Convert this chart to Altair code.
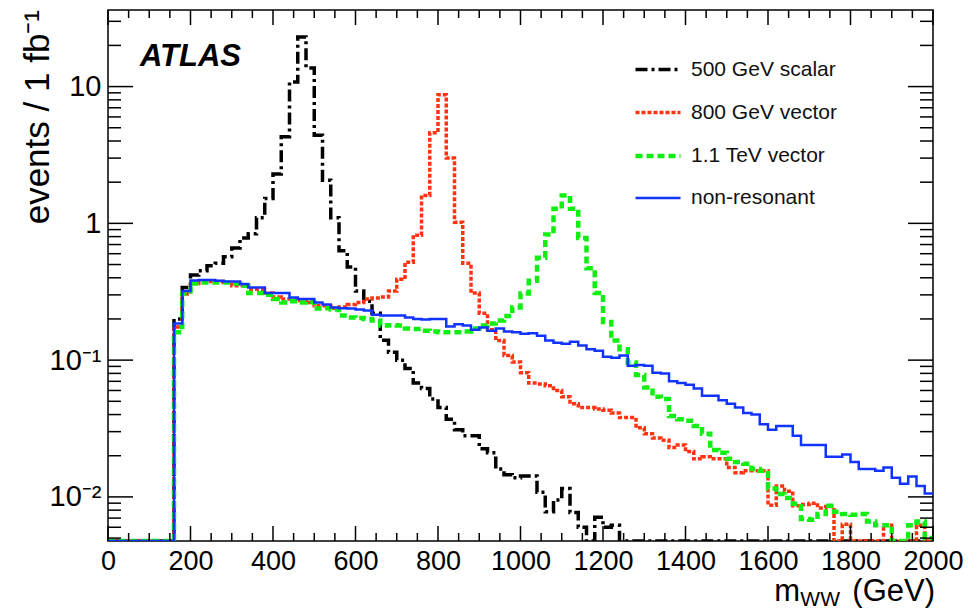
import altair as alt
import pandas as pd

# m_WW bins: 20 GeV wide, 0 - 2000 GeV
BIN_WIDTH = 20
M_MAX = 2000
M_LOW = list(range(0, M_MAX, BIN_WIDTH))

SERIES = ["500 GeV scalar", "800 GeV vector", "1.1 TeV vector", "non-resonant"]
COLORS = ["#000000", "#ff3311", "#11ee11", "#1133ff"]
DASHES = [[12, 4, 3, 4], [4, 2], [7, 4], [1, 0]]
WIDTHS = [3.5, 3.5, 4.5, 2.5]

# events / 1 fb^-1 per bin (0 = empty bin)
scalar_500 = [
    0, 0, 0, 0, 0, 0, 0, 0, 0.20, 0.34,
    0.42, 0.45, 0.49, 0.51, 0.57, 0.66, 0.78, 0.84, 1.10, 1.52,
    2.3, 4.3, 10.8, 23.0, 13.7, 4.4, 2.07, 1.10, 0.63, 0.48,
    0.32, 0.27, 0.22, 0.14, 0.114, 0.10, 0.087, 0.068, 0.062, 0.052,
    0.045, 0.037, 0.031, 0.028, 0.028, 0.0225, 0.021, 0.016, 0.0145, 0.0138,
    0.0142, 0.0142, 0.0108, 0.0078, 0.0095, 0.0115, 0.0077, 0.0060, 0, 0.0071,
    0.0060, 0.0062, 0, 0, 0, 0, 0, 0, 0, 0,
    0, 0, 0, 0, 0, 0, 0, 0, 0, 0,
    0, 0, 0, 0, 0, 0, 0, 0, 0, 0,
    0, 0, 0, 0, 0, 0, 0, 0, 0, 0,
]
vector_800 = [
    0, 0, 0, 0, 0, 0, 0, 0, 0.175, 0.305,
    0.364, 0.375, 0.375, 0.375, 0.37, 0.35, 0.35, 0.33, 0.33, 0.31,
    0.29, 0.28, 0.28, 0.273, 0.264, 0.25, 0.25, 0.24, 0.245, 0.255,
    0.264, 0.28, 0.285, 0.29, 0.32, 0.39, 0.52, 0.82, 1.6, 4.6,
    8.7, 3.0, 1.02, 0.51, 0.31, 0.22, 0.167, 0.139, 0.108, 0.097,
    0.081, 0.068, 0.067, 0.065, 0.060, 0.054, 0.048, 0.045, 0.045, 0.044,
    0.043, 0.041, 0.038, 0.038, 0.032, 0.029, 0.027, 0.026, 0.023, 0.024,
    0.0215, 0.019, 0.0197, 0.019, 0.019, 0.0164, 0.015, 0.0155, 0.0155, 0.0155,
    0.0087, 0.012, 0.011, 0.0086, 0.0088, 0.0090, 0.0083, 0.0085, 0, 0.0063,
    0, 0, 0, 0, 0.0062, 0, 0, 0, 0.0062, 0,
]
vector_1100 = [
    0, 0, 0, 0, 0, 0, 0, 0, 0.16, 0.307,
    0.364, 0.37, 0.37, 0.37, 0.37, 0.364, 0.35, 0.31, 0.31, 0.30,
    0.28, 0.264, 0.27, 0.264, 0.266, 0.238, 0.24, 0.235, 0.212, 0.205,
    0.203, 0.20, 0.195, 0.179, 0.18, 0.179, 0.17, 0.169, 0.164, 0.162,
    0.16, 0.16, 0.16, 0.162, 0.17, 0.179, 0.185, 0.195, 0.21, 0.243,
    0.307, 0.38, 0.56, 0.83, 1.28, 1.60, 1.28, 0.78, 0.47, 0.31,
    0.19, 0.139, 0.12, 0.096, 0.078, 0.063, 0.054, 0.052, 0.039, 0.037,
    0.036, 0.033, 0.029, 0.022, 0.021, 0.019, 0.018, 0.0175, 0.016, 0.0155,
    0.0115, 0.0105, 0.0098, 0.0089, 0.0069, 0.0068, 0.0075, 0.0086, 0.0078, 0.0075,
    0.0074, 0.0075, 0.0066, 0.0062, 0.0062, 0, 0, 0.0062, 0.0066, 0.0050,
]
non_resonant = [
    0, 0, 0, 0, 0, 0, 0, 0, 0.185, 0.32,
    0.382, 0.385, 0.385, 0.38, 0.376, 0.376, 0.36, 0.34, 0.34, 0.31,
    0.31, 0.31, 0.287, 0.28, 0.28, 0.264, 0.255, 0.243, 0.24, 0.238,
    0.235, 0.231, 0.215, 0.212, 0.212, 0.212, 0.205, 0.20, 0.198, 0.20,
    0.20, 0.176, 0.183, 0.179, 0.167, 0.173, 0.164, 0.17, 0.162, 0.160,
    0.156, 0.157, 0.151, 0.139, 0.134, 0.132, 0.136, 0.128, 0.12, 0.117,
    0.106, 0.104, 0.108, 0.091, 0.092, 0.091, 0.081, 0.080, 0.070, 0.068,
    0.066, 0.062, 0.055, 0.055, 0.051, 0.048, 0.045, 0.041, 0.040, 0.034,
    0.031, 0.033, 0.033, 0.028, 0.024, 0.024, 0.024, 0.0197, 0.0197, 0.0204,
    0.018, 0.016, 0.016, 0.0155, 0.0164, 0.0138, 0.0125, 0.0141, 0.0120, 0.0106,
]

Y_MIN, Y_MAX = 0.00476, 36.3
Y_MAJOR = [0.01, 0.1, 1, 10]
Y_MINOR = [k * 10.0 ** e for e in range(-3, 2) for k in range(2, 10)
           if Y_MIN < k * 10.0 ** e < Y_MAX]
X_MAJOR = list(range(0, M_MAX + 1, 200))
X_MINOR = [t for t in range(0, M_MAX + 1, 50) if t % 200]

W, H = 825, 531
FONT = "Liberation Sans"

# histogram outlines: one point per lower bin edge plus the closing edge;
# empty bins sit on the lower edge of the frame
rows = []
for name, vals in zip(SERIES, [scalar_500, vector_800, vector_1100, non_resonant]):
    assert len(vals) == len(M_LOW)
    shown = [max(v, Y_MIN) for v in vals]
    for m, v in zip(M_LOW + [M_MAX], shown + [shown[-1]]):
        rows.append({"series": name, "m": m, "v": v})
hist = pd.DataFrame(rows)

x_scale = alt.Scale(domain=[0, M_MAX], nice=False, zero=False)
y_scale = alt.Scale(type="log", domain=[Y_MIN, Y_MAX], nice=False)

x_enc = alt.X("m:Q", scale=x_scale, axis=alt.Axis(
    values=X_MAJOR, format="d", ticks=False, domain=False, grid=False, title=None,
    labelFont=FONT, labelFontSize=27, labelColor="black", labelPadding=7,
    labelFlush=False, labelOverlap=False))
y_enc = alt.Y("v:Q", scale=y_scale, axis=alt.Axis(
    values=Y_MAJOR, ticks=False, domain=False, grid=False, title=None,
    labelFont=FONT, labelFontSize=29, labelColor="black", labelPadding=7,
    labelFlush=False, labelOverlap=False,
    labelExpr="datum.value == 10 ? '10' : datum.value == 1 ? '1' : "
              "datum.value == 0.1 ? '10\u207b\u00b9' : '10\u207b\u00b2'"))

legend = alt.Legend(
    title=None, orient="none", legendX=525, legendY=35,
    symbolType="stroke", symbolSize=2025, symbolStrokeColor="black",
    labelFont=FONT, labelFontSize=21, labelColor="#111111",
    labelOffset=8, rowPadding=8, symbolOffset=0)

lines = alt.Chart(hist).mark_line(interpolate="step-after", clip=True).encode(
    x=x_enc,
    y=y_enc,
    color=alt.Color("series:N", scale=alt.Scale(domain=SERIES, range=COLORS),
                    sort=SERIES, legend=legend),
    strokeDash=alt.StrokeDash("series:N", scale=alt.Scale(domain=SERIES, range=DASHES),
                              sort=SERIES, legend=legend),
    strokeWidth=alt.StrokeWidth("series:N",
                                scale=alt.Scale(type="ordinal", domain=SERIES, range=WIDTHS),
                                sort=SERIES, legend=legend),
)

# inward-pointing tick marks on all four sides
y_major = pd.DataFrame({"v": Y_MAJOR})
y_minor = pd.DataFrame({"v": Y_MINOR})
x_major = pd.DataFrame({"m": X_MAJOR})
x_minor = pd.DataFrame({"m": X_MINOR})

def yticks(df, length):
    base = alt.Chart(df).mark_rule(color="black", strokeWidth=1.5)
    left = base.encode(y=y_enc, x=alt.value(0), x2=alt.value(length))
    right = base.encode(y=y_enc, x=alt.value(W - length), x2=alt.value(W))
    return left + right

def xticks(df, length):
    base = alt.Chart(df).mark_rule(color="black", strokeWidth=1.5)
    bottom = base.encode(x=x_enc, y=alt.value(H), y2=alt.value(H - length))
    top = base.encode(x=x_enc, y=alt.value(0), y2=alt.value(length))
    return bottom + top

one = pd.DataFrame({"k": [0]})
atlas = alt.Chart(one).mark_text(
    text="ATLAS", font=FONT, fontSize=31, fontStyle="italic", fontWeight="bold",
    align="left", baseline="alphabetic", color="black"
).encode(x=alt.value(32), y=alt.value(56))

# m_WW (GeV), with the WW set as a subscript
x_title_unit = alt.Chart(one).mark_text(
    text="(GeV)", font=FONT, fontSize=31, align="right", baseline="alphabetic",
    color="black").encode(x=alt.value(W + 2), y=alt.value(H + 60))
x_title_sub = alt.Chart(one).mark_text(
    text="WW", font=FONT, fontSize=21, align="right", baseline="alphabetic",
    color="black").encode(x=alt.value(W - 93), y=alt.value(H + 65))
x_title_m = alt.Chart(one).mark_text(
    text="m", font=FONT, fontSize=31, align="right", baseline="alphabetic",
    color="black").encode(x=alt.value(W - 133), y=alt.value(H + 60))
y_title = alt.Chart(one).mark_text(
    text="events / 1 fb\u207b\u00b9", font=FONT, fontSize=35, angle=270,
    align="right", baseline="middle", color="black"
).encode(x=alt.value(-70), y=alt.value(0))

chart = alt.layer(
    lines,
    yticks(y_major, 25), yticks(y_minor, 13),
    xticks(x_major, 15), xticks(x_minor, 8),
    atlas, x_title_m, x_title_sub, x_title_unit, y_title,
).properties(
    width=W, height=H,
    autosize=alt.AutoSizeParams(type="none"),
    padding={"left": 108, "top": 10, "right": 40, "bottom": 71},
    background="white",
).configure_view(stroke="black", strokeWidth=1.5)

chart.save("out.html", embed_options={"renderer": "svg", "actions": False})
